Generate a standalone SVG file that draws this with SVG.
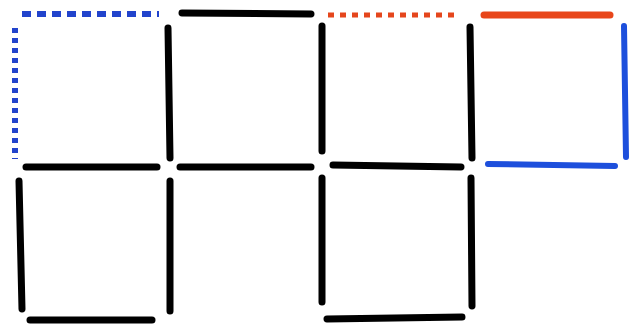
<svg xmlns="http://www.w3.org/2000/svg" width="632" height="325" viewBox="0 0 632 325">
<style>
.k{stroke:#000;stroke-width:7;stroke-linecap:round;fill:none}
.bd{stroke:#2244cc;stroke-width:6;fill:none}
.od{stroke:#e5461c;stroke-width:5;fill:none;stroke-dasharray:6 6}
.os{stroke:#e8461a;stroke-width:7;stroke-linecap:round;fill:none}
.bs{stroke:#1d4fdc;stroke-width:6;stroke-linecap:round;fill:none}
</style>
<rect width="632" height="325" fill="#fff"/>
<g id="sticks">
<!-- top row horizontals -->
<line class="bd" x1="22" y1="14" x2="159" y2="14" stroke-dasharray="9 6"/>
<line class="k" x1="182" y1="13" x2="311" y2="14"/>
<line class="od" x1="328" y1="15" x2="458" y2="15"/>
<line class="os" x1="484" y1="15" x2="610" y2="15"/>
<!-- top row verticals -->
<line class="bd" x1="15" y1="28" x2="15" y2="159" stroke-dasharray="5 5"/>
<line class="k" x1="168" y1="28" x2="170" y2="158"/>
<line class="k" x1="322" y1="26" x2="322" y2="151"/>
<line class="k" x1="470" y1="27" x2="472" y2="158"/>
<line class="bs" x1="624" y1="26" x2="626" y2="157"/>
<!-- middle horizontals -->
<line class="k" x1="26" y1="167" x2="157" y2="167"/>
<line class="k" x1="180" y1="167" x2="311" y2="167"/>
<line class="k" x1="333" y1="165" x2="461" y2="167"/>
<line class="bs" x1="488" y1="164" x2="615" y2="166"/>
<!-- bottom row verticals -->
<line class="k" x1="19" y1="181" x2="22" y2="309"/>
<line class="k" x1="170" y1="181" x2="170" y2="311"/>
<line class="k" x1="322" y1="178" x2="322" y2="302"/>
<line class="k" x1="471" y1="178" x2="472" y2="306"/>
<!-- bottom horizontals -->
<line class="k" x1="30" y1="320" x2="152" y2="320"/>
<line class="k" x1="327" y1="319" x2="462" y2="317"/>
</g>
</svg>
